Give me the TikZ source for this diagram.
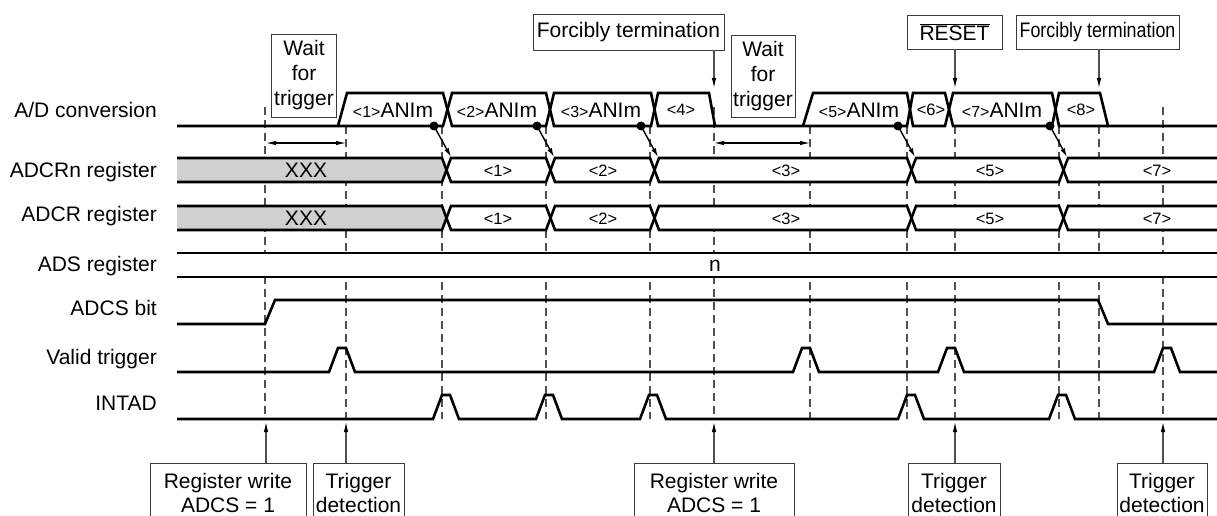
\documentclass[tikz,border=0pt]{standalone}
\usepackage{fontspec}
\setmainfont{Liberation Sans}
\usepackage{graphicx}
\usetikzlibrary{arrows.meta}
\definecolor{Guide}{HTML}{505050}
\definecolor{BoxLine}{HTML}{3A3A3A}
\definecolor{RegGray}{HTML}{D0D0D0}

\begin{document}
\begin{tikzpicture}[
  x=1pt,
  y=-1pt,
  sig/.style={line width=2.6pt,line join=miter},
  guide/.style={draw=Guide,line width=1.2pt,dash pattern=on 8pt off 5pt},
  rowlabel/.style={font=\fontsize{21}{25}\selectfont,anchor=base east,inner sep=0pt},
  busval/.style={font=\fontsize{21}{25}\selectfont,inner sep=0pt},
  regval/.style={font=\fontsize{16.5}{18}\selectfont,inner sep=0pt},
  callbox/.style={draw=BoxLine,line width=0.9pt,font=\fontsize{21}{25}\selectfont,align=center,inner sep=0pt},
  callout/.style={draw=Guide,line width=1.1pt,-{Latex[length=10pt,width=4.5pt,color=black]}},
  dot/.style={circle,fill=black,inner sep=0pt,minimum size=9pt},
  hitarrow/.style={line width=1.4pt,-{Latex[length=9pt,width=5pt]}},
  span/.style={line width=1.1pt,{Latex[length=10pt,width=4.5pt]}-{Latex[length=10pt,width=4.5pt]}}
]
  \useasboundingbox (0,0) rectangle (1217,516);

  % Row labels
  \node[rowlabel] (labad) at (157,117.5) {A/D conversion};
  \node[rowlabel] (labrn) at (157,177) {ADCRn register};
  \node[rowlabel] (labr) at (157,221) {ADCR register};
  \node[rowlabel] (labads) at (157,271) {ADS register};
  \node[rowlabel] (labadcs) at (157,315.5) {ADCS bit};
  \node[rowlabel] (labtrg) at (157,364) {Valid trigger};
  \node[rowlabel] (labint) at (157,410.5) {INTAD};

  % Timing guides
  \foreach \gx in {346,442,546,650,810,907,955,1059,1099} {\draw[guide] (\gx,126) -- (\gx,419);}
  \foreach \gx in {265,714,1163} {\draw[guide] (\gx,107) -- (\gx,419);}
  \foreach \yc in {170,218,265} {\fill[white] (177,\yc-12) rectangle (1217,\yc+12);}

  % A/D conversion
  \draw[sig] (177,126) -- (443,126) -- (452,93) -- (546,93) -- (554,126) -- (651,126) -- (658,93) -- (709,93) -- (715,126)
    -- (907,126) -- (913,93) -- (945,93) -- (953,126) -- (1052,126) -- (1059,93) -- (1100,93) -- (1108,126) -- (1217,126);
  \draw[sig] (338,126) -- (347,93) -- (443,93) -- (452,126) -- (546,126) -- (554,93) -- (651,93) -- (658,126) -- (715,126);
  \draw[sig] (803,126) -- (813,93) -- (907,93) -- (913,126) -- (945,126) -- (953,93) -- (1052,93) -- (1059,126) -- (1108,126);
  \node[busval] (conv1) at (393,110) {{\fontsize{16}{18}\selectfont<1>}ANIm};
  \node[busval] (conv2) at (497,110) {{\fontsize{16}{18}\selectfont<2>}ANIm};
  \node[busval] (conv3) at (601,110) {{\fontsize{16}{18}\selectfont<3>}ANIm};
  \node[regval] (conv4) at (681,110) {<4>};
  \node[busval] (conv5) at (859,110) {{\fontsize{16}{18}\selectfont<5>}ANIm};
  \node[regval] (conv6) at (931,110) {<6>};
  \node[busval] (conv7) at (1002,110) {{\fontsize{16}{18}\selectfont<7>}ANIm};
  \node[regval] (conv8) at (1081,110) {<8>};
  \foreach \dx/\hx [count=\k] in {434/451,537/554,641/658,898/915,1050/1067} {
    \node[dot] (dot\k) at (\dx,126) {};
    \coordinate (hit\k) at (\hx,157);
    \draw[hitarrow] (dot\k.center) -- (hit\k);
  }
  \coordinate (waitA) at (266,143);
  \coordinate (waitB) at (346,143);
  \coordinate (waitC) at (714,143);
  \coordinate (waitD) at (810,143);
  \draw[span] (waitA) -- (waitB);
  \draw[span] (waitC) -- (waitD);

  % ADCRn and ADCR registers
  \foreach \yc/\rw in {170/rn,218/r} {
    \fill[RegGray] (177,\yc-12) -- (442,\yc-12) -- (446.5,\yc) -- (442,\yc+12) -- (177,\yc+12) -- cycle;
    \draw[sig] (177,\yc-12) -- (442,\yc-12) -- (451,\yc+12) -- (546,\yc+12) -- (555,\yc-12) -- (650,\yc-12) -- (659,\yc+12)
      -- (907,\yc+12) -- (916,\yc-12) -- (1059,\yc-12) -- (1068,\yc+12) -- (1217,\yc+12);
    \draw[sig] (177,\yc+12) -- (442,\yc+12) -- (451,\yc-12) -- (546,\yc-12) -- (555,\yc+12) -- (650,\yc+12) -- (659,\yc-12)
      -- (907,\yc-12) -- (916,\yc+12) -- (1059,\yc+12) -- (1068,\yc-12) -- (1217,\yc-12);
    \node[busval] (xxx\rw) at (306,\yc) {XXX};
    \foreach \val/\vx in {1/498,2/603,3/786,5/990,7/1157}
      {\node[regval] (\rw val\val) at (\vx,\yc+1) {<\val>};}
  }

  % ADS register
  \draw[sig] (177,253) -- (1217,253);
  \draw[sig] (177,277) -- (1217,277);
  \node[busval] (adsval) at (715,266) {n};

  % ADCS bit, valid trigger, INTAD
  \draw[sig] (177,324) -- (265,324) -- (275,300) -- (1098,300) -- (1108,324) -- (1217,324);
  \draw[sig] (177,372) \foreach \tx in {338,802,947,1163} { -- (\tx-9,372) -- (\tx,348) -- (\tx+8,348) -- (\tx+17,372) } -- (1217,372);
  \draw[sig] (177,419) \foreach \tx in {442,545,649,907,1058} { -- (\tx-9,419) -- (\tx,395) -- (\tx+8,395) -- (\tx+17,419) } -- (1217,419);

  % Notes above
  \node[callbox,minimum width=65pt,minimum height=83pt] (wait1) at (304,75.5) {Wait\\for\\trigger};
  \node[callbox,minimum width=191pt,minimum height=36pt] (stop1) at (628.5,32) {Forcibly termination};
  \node[callbox,minimum width=64pt,minimum height=82pt] (wait2) at (763,76) {Wait\\for\\trigger};
  \node[callbox,minimum width=95pt,minimum height=34pt] (reset) at (954.5,32) {\(\overline{\mbox{RESET}}\)};
  \node[callbox,minimum width=163pt,minimum height=34pt] (stop2) at (1097.5,32) {\scalebox{0.85}[1]{Forcibly termination}};
  \coordinate (hitstop1) at (714,88);
  \coordinate (hitreset) at (955,88);
  \coordinate (hitstop2) at (1099,88);
  \draw[callout] (stop1.south -| hitstop1) -- (hitstop1);
  \draw[callout] (reset.south -| hitreset) -- (hitreset);
  \draw[callout] (stop2.south -| hitstop2) -- (hitstop2);

  % Notes below
  \node[callbox,font=\fontsize{21}{24}\selectfont,minimum width=156pt,minimum height=60pt] (write1) at (228,493) {Register write\\ADCS = 1};
  \node[callbox,font=\fontsize{21}{24}\selectfont,minimum width=91pt,minimum height=60pt] (detect1) at (358.5,493) {Trigger\\detection};
  \node[callbox,font=\fontsize{21}{24}\selectfont,minimum width=160pt,minimum height=60pt] (write2) at (714,493) {Register write\\ADCS = 1};
  \node[callbox,font=\fontsize{21}{24}\selectfont,minimum width=92pt,minimum height=60pt] (detect2) at (954,493) {Trigger\\detection};
  \node[callbox,font=\fontsize{21}{24}\selectfont,minimum width=90pt,minimum height=60pt] (detect3) at (1162,493) {Trigger\\detection};
  \coordinate (hitwrite1) at (266,422);
  \coordinate (hitdetect1) at (346,422);
  \coordinate (hitwrite2) at (714,422);
  \coordinate (hitdetect2) at (955,422);
  \coordinate (hitdetect3) at (1163,422);
  \draw[callout] (write1.north -| hitwrite1) -- (hitwrite1);
  \draw[callout] (detect1.north -| hitdetect1) -- (hitdetect1);
  \draw[callout] (write2.north -| hitwrite2) -- (hitwrite2);
  \draw[callout] (detect2.north -| hitdetect2) -- (hitdetect2);
  \draw[callout] (detect3.north -| hitdetect3) -- (hitdetect3);
\end{tikzpicture}
\end{document}
